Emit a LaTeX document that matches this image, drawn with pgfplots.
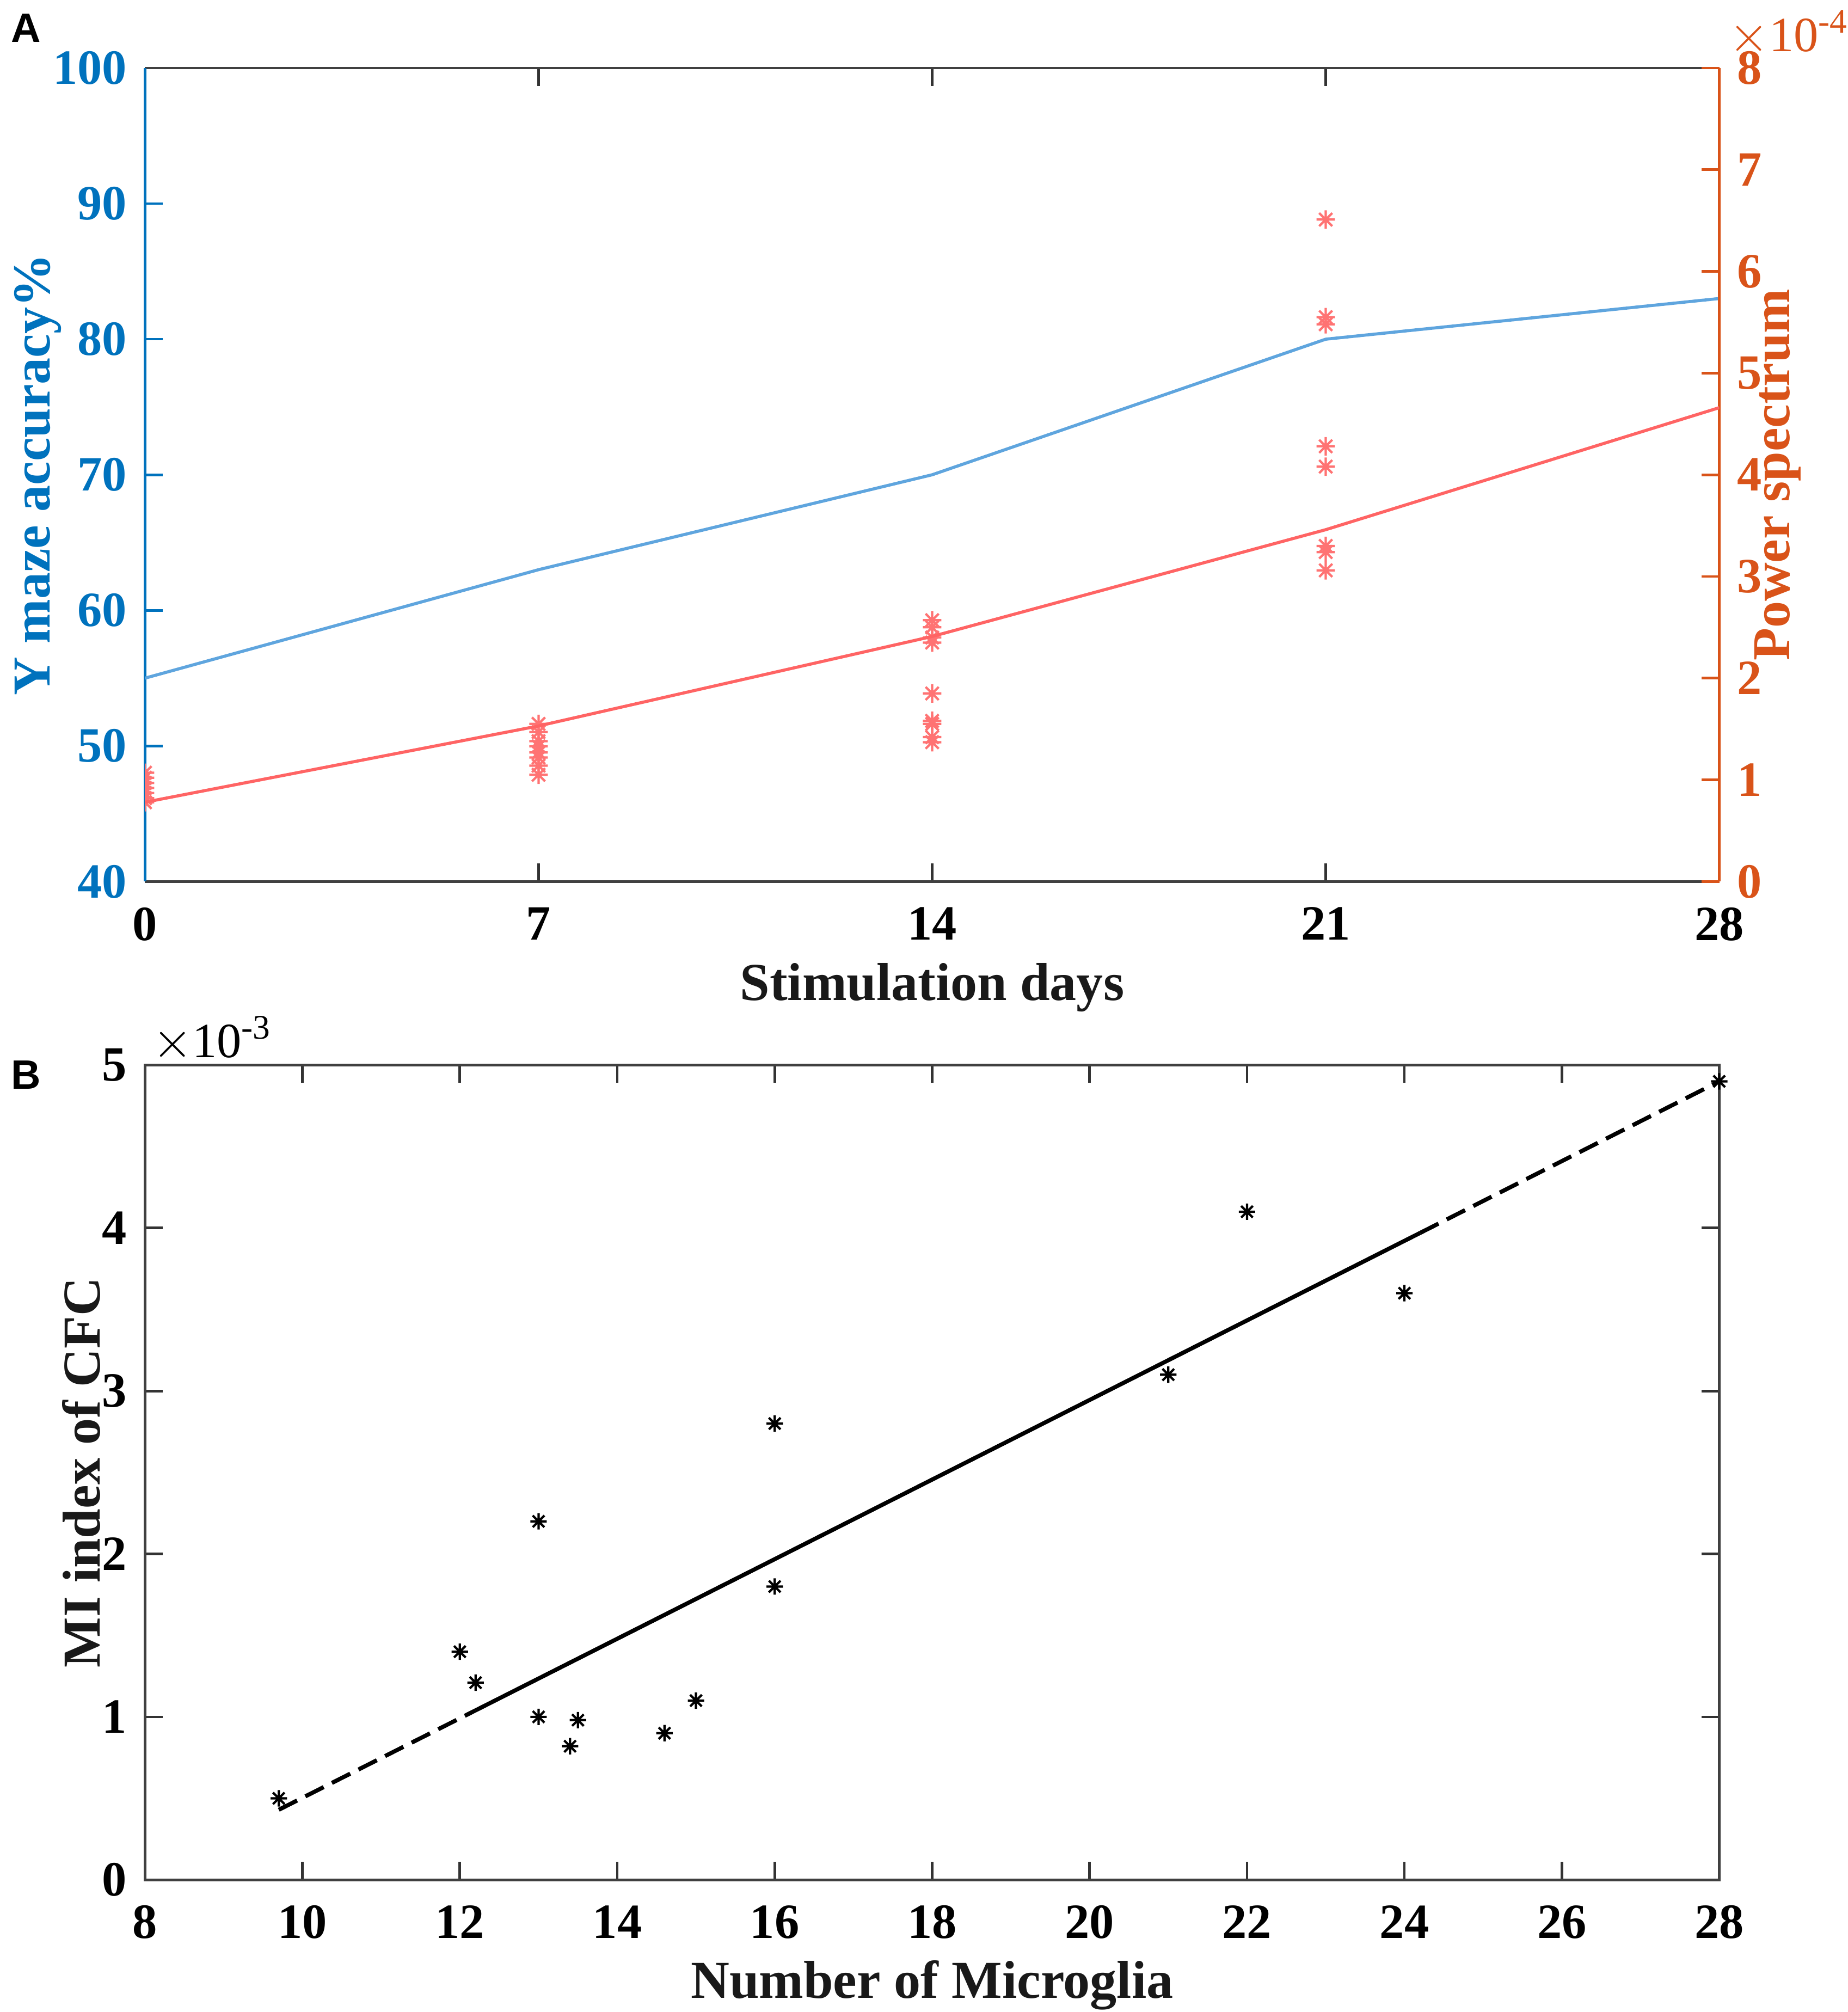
\documentclass[border=0pt]{standalone}
\usepackage{pgfplots}
\pgfplotsset{compat=1.18}
\usepackage{fontspec}
\setmainfont{Liberation Serif}
\newfontfamily\panelfont{Liberation Sans}
\definecolor{mblue}{RGB}{0,114,189}
\definecolor{morange}{RGB}{217,83,25}
\definecolor{lblue}{RGB}{95,165,222}
\definecolor{lred}{RGB}{255,100,100}
\definecolor{sred}{RGB}{255,115,115}

\pgfdeclareplotmark{ast8}{%
  \pgfpathmoveto{\pgfqpoint{0pt}{\pgfplotmarksize}}%
  \pgfpathlineto{\pgfqpoint{0pt}{-\pgfplotmarksize}}%
  \pgfpathmoveto{\pgfqpoint{\pgfplotmarksize}{0pt}}%
  \pgfpathlineto{\pgfqpoint{-\pgfplotmarksize}{0pt}}%
  \pgfpathmoveto{\pgfqpoint{0.7071\pgfplotmarksize}{0.7071\pgfplotmarksize}}%
  \pgfpathlineto{\pgfqpoint{-0.7071\pgfplotmarksize}{-0.7071\pgfplotmarksize}}%
  \pgfpathmoveto{\pgfqpoint{-0.7071\pgfplotmarksize}{0.7071\pgfplotmarksize}}%
  \pgfpathlineto{\pgfqpoint{0.7071\pgfplotmarksize}{-0.7071\pgfplotmarksize}}%
  \pgfusepathqstroke
}

\newcommand{\lblfont}{\fontsize{10.4}{12}\selectfont\bfseries}
\newcommand{\tckfont}{\fontsize{9.6}{11}\selectfont\bfseries}

\pgfplotsset{
  mystyle/.style={
    scale only axis,
    width=306.75pt,
    tick align=inside,
    major tick length=3.5pt,
    ticklabel style={font=\tckfont},
    /pgf/number format/assume math mode=true,
    axis line style={line width=0.5pt},
    tick style={line width=0.5pt},
    xticklabel style={yshift=-1.5pt},
  }
}

\begin{document}
\begin{tikzpicture}[x=1pt,y=1pt]
\useasboundingbox (0,0) rectangle (360,392);

% ---------------- Panel A: left axis ----------------
\begin{axis}[mystyle,
  name=A1,
  at={(28.25pt,220.25pt)}, anchor=south west,
  height=158.5pt,
  xmin=0, xmax=28, ymin=40, ymax=100,
  axis x line=box, axis y line*=left,
  x axis line style={draw=black!75},
  y axis line style={draw=mblue},
  xtick={0,7,14,21,28},
  ytick={40,50,...,100},
  x tick style={black!80},
  y tick style={mblue},
  yticklabel style={color=mblue},
  xlabel={Stimulation days},
  xlabel style={at={(axis description cs:0.5,-0.146)}, anchor=base, font=\lblfont, color=black!90},
  ylabel={Y maze accuracy\%},
  ylabel style={at={(axis description cs:-0.0603,0.5)}, anchor=base, color=mblue, font=\lblfont},
]
\addplot[lblue, line width=0.6pt] coordinates {(0,55) (7,63) (14,70) (21,80) (28,83)};
\end{axis}

% ---------------- Panel A: right axis ----------------
\begin{axis}[mystyle,
  name=A2,
  at={(28.25pt,220.25pt)}, anchor=south west,
  height=158.5pt,
  xmin=0, xmax=28, ymin=0, ymax=8,
  axis x line=none, axis y line*=right,
  y axis line style={draw=morange},
  ytick={0,1,...,8},
  y tick style={morange},
  yticklabel style={color=morange},
  ylabel={Power spectrum},
  ylabel style={at={(axis description cs:1.0445,0.5)}, anchor=base, color=morange, font=\lblfont},
  clip marker paths=true,
]
\addplot[only marks, mark=ast8, mark size=1.8pt, sred, line width=0.45pt] coordinates {
  (0,1.07) (0,1.02) (0,0.97) (0,0.92) (0,0.87) (0,0.82) (0,0.78)
  (7,1.55) (7,1.47) (7,1.38) (7,1.33) (7,1.27) (7,1.22) (7,1.14) (7,1.05)
  (14,2.57) (14,2.50) (14,2.40) (14,2.35) (14,1.85) (14,1.58) (14,1.55) (14,1.42) (14,1.37)
  (21,6.51) (21,5.55) (21,5.48) (21,4.28) (21,4.08) (21,3.30) (21,3.24) (21,3.06)
};
\addplot[lred, line width=0.6pt] coordinates {(0,0.78) (7,1.53) (14,2.41) (21,3.46) (28,4.66)};
\end{axis}
\node[anchor=base west, inner sep=0pt, color=morange, font=\fontsize{9.6}{10}\selectfont]
  at ([xshift=1.75pt,yshift=3.2pt]A2.north east) {$\times$10\textsuperscript{-4}};

% ---------------- Panel B ----------------
\begin{axis}[mystyle,
  name=B,
  at={(28.25pt,25.75pt)}, anchor=south west,
  height=158.75pt,
  xmin=8, xmax=28, ymin=0, ymax=5,
  xtick={8,10,...,28},
  ytick={0,1,...,5},
  axis line style={draw=black!75, line width=0.5pt},
  tick style={black!80},
  xlabel={Number of Microglia},
  xlabel style={at={(axis description cs:0.5,-0.145)}, anchor=base, font=\lblfont, color=black!90},
  ylabel={MI index of CFC},
  ylabel style={at={(axis description cs:-0.0285,0.5)}, anchor=base, font=\lblfont, color=black!90},
]
\addplot[only marks, mark=ast8, mark size=1.6pt, black, line width=0.45pt] coordinates {
  (9.7,0.50) (12,1.40) (12.2,1.21) (13,2.20) (13,1.00) (13.4,0.82) (13.5,0.98)
  (14.6,0.90) (15,1.10) (16,2.80) (16,1.80) (21,3.10) (22,4.10) (24,3.60) (28,4.90)
};
\addplot[black, line width=0.8pt, dash pattern=on 4pt off 1.8pt] coordinates {(9.7,0.43) (12.2,1.04)};
\addplot[black, line width=0.8pt] coordinates {(12.2,1.04) (24.2,3.97)};
\addplot[black, line width=0.8pt, dash pattern=on 4pt off 1.8pt] coordinates {(24.2,3.97) (28,4.90)};
\end{axis}
\node[anchor=base west, inner sep=0pt, color=black, font=\fontsize{9.6}{10}\selectfont]
  at ([xshift=1.25pt,yshift=1.5pt]B.north west) {$\times$10\textsuperscript{-3}};

% panel letters
\node[anchor=north west, inner sep=0pt, font=\panelfont\bfseries\fontsize{8}{9}\selectfont] at (2,389.5) {A};
\node[anchor=north west, inner sep=0pt, font=\panelfont\bfseries\fontsize{8}{9}\selectfont] at (2,185.5) {B};
\end{tikzpicture}
\end{document}
